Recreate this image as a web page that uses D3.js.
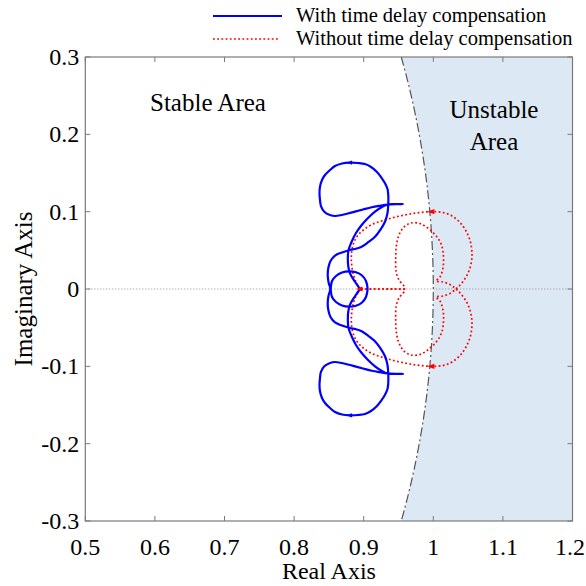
<!DOCTYPE html>
<html>
<head>
<meta charset="utf-8">
<script src="https://cdn.jsdelivr.net/npm/d3@7"></script>
<style>
  body { margin: 0; background: #fff; }
</style>
</head>
<body>
<div id="chart"></div>
<script>
// axis ticks
const xTicks = [0.5, 0.6, 0.7, 0.8, 0.9, 1.0, 1.1, 1.2];
const xTickLabels = ["0.5", "0.6", "0.7", "0.8", "0.9", "1", "1.1", "1.2"];
const yTicks = [-0.3, -0.2, -0.1, 0, 0.1, 0.2, 0.3];
const yTickLabels = ["-0.3", "-0.2", "-0.1", "0", "0.1", "0.2", "0.3"];
const seriesNames = ["With time delay compensation", "Without time delay compensation"];

// with compensation: branch drawn mostly in the upper half, [re, im]
const blueUpper = [
  [0.8947, 0], [0.8875, 0.0094], [0.8803, 0.0203], [0.8779, 0.0288], [0.8772, 0.0401],
  [0.8782, 0.0504], [0.8825, 0.0608], [0.8889, 0.0724], [0.8971, 0.0828], [0.9062, 0.0918],
  [0.9162, 0.1000], [0.9263, 0.1060], [0.9349, 0.1095], [0.9464, 0.1099], [0.9565, 0.1099],
  [0.9464, 0.1097], [0.9349, 0.1091], [0.9234, 0.1076], [0.9115, 0.1057], [0.8990, 0.1028],
  [0.8875, 0.1000], [0.8774, 0.0976], [0.8684, 0.0957], [0.8588, 0.0944], [0.8516, 0.0957],
  [0.8434, 0.1000], [0.8386, 0.1073], [0.8372, 0.1151], [0.8365, 0.1241], [0.8372, 0.1323],
  [0.8401, 0.1410], [0.8444, 0.1474], [0.8516, 0.1539], [0.8588, 0.1591], [0.8688, 0.1623],
  [0.8803, 0.1633], [0.8918, 0.1629], [0.9019, 0.1616], [0.9105, 0.1578], [0.9187, 0.1517],
  [0.9249, 0.1448], [0.9306, 0.1367], [0.9342, 0.1293], [0.9353, 0.1216], [0.9353, 0.1099],
  [0.9342, 0.0983], [0.9306, 0.0870], [0.9241, 0.0769], [0.9162, 0.0676], [0.9069, 0.0608],
  [0.8971, 0.0547], [0.8889, 0.0520], [0.8803, 0.0504], [0.8688, 0.0472], [0.8588, 0.0433],
  [0.8523, 0.0362], [0.8491, 0.0268], [0.8483, 0.0181], [0.8494, 0.0091], [0.8523, 0],
  [0.8545, -0.0103], [0.8602, -0.0168], [0.8688, -0.0213], [0.8789, -0.0229], [0.8889, -0.0216],
  [0.8976, -0.0175], [0.9033, -0.0103], [0.9057, 0]
];
// conjugate branch
const blueLower = [
  [0.8947, 0], [0.8875, -0.0094], [0.8803, -0.0203], [0.8779, -0.0288], [0.8772, -0.0401],
  [0.8782, -0.0504], [0.8825, -0.0608], [0.8889, -0.0724], [0.8971, -0.0828], [0.9062, -0.0918],
  [0.9162, -0.1000], [0.9263, -0.1060], [0.9349, -0.1095], [0.9464, -0.1099], [0.9565, -0.1099],
  [0.9464, -0.1097], [0.9349, -0.1091], [0.9234, -0.1076], [0.9115, -0.1057], [0.8990, -0.1028],
  [0.8875, -0.1000], [0.8774, -0.0976], [0.8684, -0.0957], [0.8588, -0.0944], [0.8516, -0.0957],
  [0.8434, -0.1000], [0.8386, -0.1073], [0.8372, -0.1151], [0.8365, -0.1241], [0.8372, -0.1323],
  [0.8401, -0.1410], [0.8444, -0.1474], [0.8516, -0.1539], [0.8588, -0.1591], [0.8688, -0.1623],
  [0.8803, -0.1633], [0.8918, -0.1629], [0.9019, -0.1616], [0.9105, -0.1578], [0.9187, -0.1517],
  [0.9249, -0.1448], [0.9306, -0.1367], [0.9342, -0.1293], [0.9353, -0.1216], [0.9353, -0.1099],
  [0.9342, -0.0983], [0.9306, -0.0870], [0.9241, -0.0769], [0.9162, -0.0676], [0.9069, -0.0608],
  [0.8971, -0.0547], [0.8889, -0.0520], [0.8803, -0.0504], [0.8688, -0.0472], [0.8588, -0.0433],
  [0.8523, -0.0362], [0.8491, -0.0268], [0.8483, -0.0181], [0.8494, -0.0091], [0.8523, 0],
  [0.8545, 0.0103], [0.8602, 0.0168], [0.8688, 0.0213], [0.8789, 0.0229], [0.8889, 0.0216],
  [0.8976, 0.0175], [0.9033, 0.0103], [0.9057, 0]
];

// without compensation
const redUpper = [
  [0.8947, 0], [0.8889, 0.0091], [0.8846, 0.0207], [0.8825, 0.0336], [0.8825, 0.0466],
  [0.8851, 0.0582], [0.8904, 0.0679], [0.8994, 0.0763], [0.9105, 0.0828], [0.9234, 0.0873],
  [0.9378, 0.0912], [0.9522, 0.0944], [0.9665, 0.0970], [0.9809, 0.0989], [0.9977, 0.1000],
  [1.0139, 0.0989], [1.0269, 0.0944], [1.0384, 0.0860], [1.0470, 0.0750], [1.0534, 0.0608],
  [1.0556, 0.0427], [1.0527, 0.0272], [1.0470, 0.0155], [1.0398, 0.0065], [1.0326, 0],
  [1.0240, -0.0058], [1.0139, -0.0091], [1.0039, -0.0103], [1.0096, -0.0155], [1.0139, -0.0272],
  [1.0146, -0.0427], [1.0118, -0.0569], [1.0053, -0.0672], [0.9938, -0.0776], [0.9809, -0.0847],
  [0.9680, -0.0853], [0.9579, -0.0802], [0.9507, -0.0698], [0.9471, -0.0569], [0.9460, -0.0414],
  [0.9467, -0.0220], [0.9507, -0.0116], [0.9593, -0.0013], [0.9450, 0], [0.9300, 0],
  [0.9150, 0], [0.9000, 0], [0.8947, 0]
];
const redLower = [
  [0.8947, 0], [0.8889, -0.0091], [0.8846, -0.0207], [0.8825, -0.0336], [0.8825, -0.0466],
  [0.8851, -0.0582], [0.8904, -0.0679], [0.8994, -0.0763], [0.9105, -0.0828], [0.9234, -0.0873],
  [0.9378, -0.0912], [0.9522, -0.0944], [0.9665, -0.0970], [0.9809, -0.0989], [0.9977, -0.1000],
  [1.0139, -0.0989], [1.0269, -0.0944], [1.0384, -0.0860], [1.0470, -0.0750], [1.0534, -0.0608],
  [1.0556, -0.0427], [1.0527, -0.0272], [1.0470, -0.0155], [1.0398, -0.0065], [1.0326, 0],
  [1.0240, 0.0058], [1.0139, 0.0091], [1.0039, 0.0103], [1.0096, 0.0155], [1.0139, 0.0272],
  [1.0146, 0.0427], [1.0118, 0.0569], [1.0053, 0.0672], [0.9938, 0.0776], [0.9809, 0.0847],
  [0.9680, 0.0853], [0.9579, 0.0802], [0.9507, 0.0698], [0.9471, 0.0569], [0.9460, 0.0414],
  [0.9467, 0.0220], [0.9507, 0.0116], [0.9593, 0.0013], [0.9450, 0], [0.9300, 0],
  [0.9150, 0], [0.9000, 0], [0.8947, 0]
];

const W = 586, H = 586;
const margin = { left: 85.3, right: 13.5, top: 57, bottom: 65 };
const serif = "'Liberation Serif', 'Times New Roman', Times, 'DejaVu Serif', serif";

const svg = d3.select("#chart").append("svg")
  .attr("width", W).attr("height", H)
  .attr("font-family", serif);

const x = d3.scaleLinear().domain([0.5, 1.2]).range([margin.left, W - margin.right]);
const y = d3.scaleLinear().domain([-0.3, 0.3]).range([H - margin.bottom, margin.top]);

const defs = svg.append("defs");
defs.append("clipPath").attr("id", "plotClip")
  .append("rect")
  .attr("x", x(0.5)).attr("y", y(0.3))
  .attr("width", x(1.2) - x(0.5)).attr("height", y(-0.3) - y(0.3));

const plot = svg.append("g").attr("clip-path", "url(#plotClip)");

// unit circle inside the visible window
const a0 = Math.asin(0.3);
const arc = d3.range(0, 61).map(i => {
  const t = a0 - (2 * a0) * i / 60;
  return [Math.cos(t), Math.sin(t)];
});

// unstable region, outside the unit circle
const shade = arc.concat([[1.2, -0.3], [1.2, 0.3]]);
plot.append("path")
  .attr("d", d3.line().x(d => x(d[0])).y(d => y(d[1]))(shade) + "Z")
  .attr("fill", "#dde8f5");

// real axis reference line
plot.append("line")
  .attr("x1", x(0.5)).attr("x2", x(1.2))
  .attr("y1", y(0)).attr("y2", y(0))
  .attr("stroke", "#8a8a8a").attr("stroke-width", 1)
  .attr("stroke-dasharray", "1,2");

// stability boundary
plot.append("path")
  .attr("d", d3.line().x(d => x(d[0])).y(d => y(d[1]))(arc))
  .attr("fill", "none")
  .attr("stroke", "#555")
  .attr("stroke-width", 1.2)
  .attr("stroke-dasharray", "9,3,2,3");

const line = d3.line()
  .x(d => x(d[0])).y(d => y(d[1]))
  .curve(d3.curveCatmullRom.alpha(0.5));

// red dotted curves
[redUpper, redLower].forEach(branch => {
  plot.append("path")
    .attr("d", line(branch))
    .attr("fill", "none")
    .attr("stroke", "#ff0000")
    .attr("stroke-width", 1.7)
    .attr("stroke-dasharray", "1.8,2.4");
});

// blue solid curves
[blueUpper, blueLower].forEach(branch => {
  plot.append("path")
    .attr("d", line(branch))
    .attr("fill", "none")
    .attr("stroke", "#0000ff")
    .attr("stroke-width", 2.2)
    .attr("stroke-linejoin", "round");
});

// direction arrows (left-pointing)
function arrow(p, color, s) {
  const px = x(p[0]), py = y(p[1]);
  plot.append("path")
    .attr("d", `M${px - s},${py}L${px + s * 0.6},${py - s * 0.6}L${px + s * 0.6},${py + s * 0.6}Z`)
    .attr("fill", color);
}
arrow(blueUpper[d3.greatestIndex(blueUpper, d => d[1])], "#0000ff", 3.5);
arrow(blueLower[d3.leastIndex(blueLower, d => d[1])], "#0000ff", 3.5);
arrow(redUpper[d3.greatestIndex(redUpper, d => d[1])], "#ff0000", 4.5);
arrow(redLower[d3.leastIndex(redLower, d => d[1])], "#ff0000", 4.5);
arrow(redUpper[0], "#ff0000", 4);

// axes box and ticks
const axisColor = "#7a7a7a";
const gAxes = svg.append("g");
gAxes.append("rect")
  .attr("x", x(0.5)).attr("y", y(0.3))
  .attr("width", x(1.2) - x(0.5)).attr("height", y(-0.3) - y(0.3))
  .attr("fill", "none").attr("stroke", axisColor).attr("stroke-width", 1.2);

const tl = 5;
const tickFont = 24;
xTicks.forEach((t, i) => {
  gAxes.append("line").attr("x1", x(t)).attr("x2", x(t))
    .attr("y1", y(-0.3)).attr("y2", y(-0.3) - tl)
    .attr("stroke", axisColor);
  gAxes.append("line").attr("x1", x(t)).attr("x2", x(t))
    .attr("y1", y(0.3)).attr("y2", y(0.3) + tl)
    .attr("stroke", axisColor);
  const lbl = gAxes.append("text")
    .attr("x", x(t)).attr("y", y(-0.3) + 34)
    .attr("text-anchor", "middle")
    .attr("font-size", tickFont)
    .text(xTickLabels[i]);
  // keep the last label inside the page
  const w = lbl.node().getComputedTextLength();
  if (x(t) + w / 2 > W - 1) lbl.attr("x", W - 1 - w / 2);
});
yTicks.forEach((t, i) => {
  gAxes.append("line").attr("x1", x(0.5)).attr("x2", x(0.5) + tl)
    .attr("y1", y(t)).attr("y2", y(t))
    .attr("stroke", axisColor);
  gAxes.append("line").attr("x1", x(1.2)).attr("x2", x(1.2) - tl)
    .attr("y1", y(t)).attr("y2", y(t))
    .attr("stroke", axisColor);
  gAxes.append("text")
    .attr("x", x(0.5) - 6).attr("y", y(t) + 8)
    .attr("text-anchor", "end")
    .attr("font-size", tickFont)
    .text(yTickLabels[i]);
});

// axis titles
svg.append("text")
  .attr("x", (x(0.5) + x(1.2)) / 2).attr("y", 579)
  .attr("text-anchor", "middle").attr("font-size", 24)
  .text("Real Axis");
svg.append("text")
  .attr("transform", `translate(32,${y(0)}) rotate(-90)`)
  .attr("text-anchor", "middle").attr("font-size", 25)
  .text("Imaginary Axis");

// region annotations
svg.append("text").attr("x", 150).attr("y", 111)
  .attr("font-size", 25).text("Stable Area");
svg.append("text").attr("x", 494).attr("y", 118)
  .attr("text-anchor", "middle").attr("font-size", 25).text("Unstable");
svg.append("text").attr("x", 494).attr("y", 150)
  .attr("text-anchor", "middle").attr("font-size", 25).text("Area");

// legend
const legend = svg.append("g");
legend.append("line").attr("x1", 213).attr("x2", 282).attr("y1", 16).attr("y2", 16)
  .attr("stroke", "#0000ff").attr("stroke-width", 2);
legend.append("line").attr("x1", 213).attr("x2", 279).attr("y1", 39).attr("y2", 39)
  .attr("stroke", "#ff0000").attr("stroke-width", 1.7).attr("stroke-dasharray", "1.8,2.4");
legend.append("text").attr("x", 296).attr("y", 22).attr("font-size", 20.5).text(seriesNames[0]);
legend.append("text").attr("x", 296).attr("y", 45).attr("font-size", 20.5).text(seriesNames[1]);
</script>
</body>
</html>
